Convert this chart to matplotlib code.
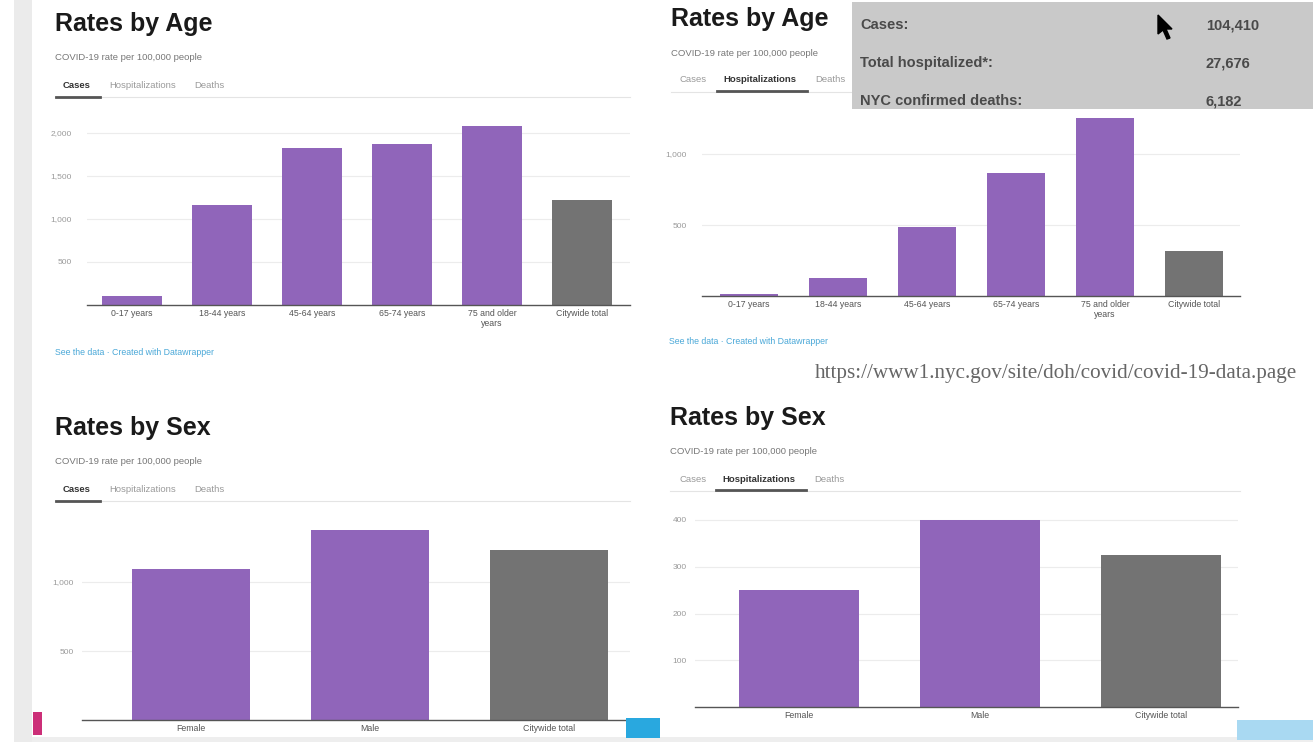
import matplotlib
matplotlib.use("Agg")
import matplotlib.pyplot as plt
from matplotlib.patches import Rectangle, Polygon
from matplotlib.lines import Line2D
from matplotlib.ticker import FuncFormatter

plt.rcParams['font.family'] = ['Liberation Sans', 'DejaVu Sans']

# data (rates per 100,000 people)
age_groups = ["0-17 years", "18-44 years", "45-64 years", "65-74 years", "75 and older\nyears", "Citywide total"]
age_cases = [105, 1165, 1825, 1870, 2080, 1220]
age_hosp = [14, 127, 486, 866, 1254, 317]
sex_groups = ["Female", "Male", "Citywide total"]
sex_cases = [1094, 1377, 1232]
sex_hosp = [251, 400, 326]

summary_labels = ["Cases:", "Total hospitalized*:", "NYC confirmed deaths:"]
summary_values = ["104,410", "27,676", "6,182"]
tabs = ["Cases", "Hospitalizations", "Deaths"]

W, H = 1313, 742
PURPLE = "#9065ba"
GREY = "#737373"

fig = plt.figure(figsize=(W / 100, H / 100), dpi=100)


def fx(x):
    return x / W


def fy(y):
    return 1 - y / H


def add_rect(x0, y0, x1, y1, color, z=1):
    fig.patches.append(Rectangle((fx(x0), fy(y1)), fx(x1 - x0), (y1 - y0) / H,
                                 transform=fig.transFigure, color=color, zorder=z, lw=0))


def add_line(x0, x1, y, color, lw):
    fig.lines.append(Line2D([fx(x0), fx(x1)], [fy(y), fy(y)], transform=fig.transFigure,
                            color=color, lw=lw))


def header(x, y, title, active, line_end):
    fig.text(fx(x), fy(y), title, fontsize=18, fontweight='bold', color='#1a1a1a', va='center')
    fig.text(fx(x), fy(y + 34), "COVID-19 rate per 100,000 people", fontsize=6.8, color='#777777', va='center')
    if active == 0:
        tab_x = [x + 8, x + 54, x + 139]
    else:
        tab_x = [x + 9, x + 52, x + 144]
    for i, t in enumerate(tabs):
        fig.text(fx(tab_x[i]), fy(y + 61), t, fontsize=6.8, va='center',
                 color='#333333' if i == active else '#9a9a9a',
                 fontweight='bold' if i == active else 'normal')
    add_line(x, line_end, y + 73, '#e4e4e4', 0.8)
    if active == 0:
        add_line(x + 1, x + 45, y + 73, '#555555', 2)
    else:
        add_line(x + 46, x + 136, y + 72, '#555555', 2)


def bar_panel(left, right, top, base, x0, step, px_per_unit, cats, vals, ticks, ylabel_x):
    ax = fig.add_axes([fx(left), fy(base), fx(right - left), (base - top) / H])
    colors = [PURPLE] * (len(vals) - 1) + [GREY]
    xs = list(range(len(vals)))
    ax.bar(xs, vals, width=0.66, color=colors, zorder=2)
    ax.set_xlim((left - x0) / step, (right - x0) / step)
    ax.set_ylim(0, (base - top) / px_per_unit)
    ax.set_yticks(ticks)
    ax.yaxis.set_major_formatter(FuncFormatter(lambda v, p: f"{int(v):,}"))
    ax.set_xticks(xs)
    ax.set_xticklabels(cats, fontsize=6.3, color='#555555', linespacing=1.1)
    ax.tick_params(axis='x', length=0, pad=3)
    ax.tick_params(axis='y', length=0, labelsize=6, labelcolor='#9a9a9a', pad=left - ylabel_x)
    ax.grid(axis='y', color='#ececec', lw=0.8, zorder=0)
    for s in ['top', 'right', 'left']:
        ax.spines[s].set_visible(False)
    ax.spines['bottom'].set_color('#555555')
    ax.spines['bottom'].set_linewidth(1)
    ax.spines['bottom'].set_zorder(3)
    ax.patch.set_alpha(0)
    return ax


# page background bits
add_rect(14, 0, 32, H, '#ebebeb')
add_rect(32, 737, W, H, '#eeeeee')
add_rect(33, 712, 42, 735, '#cc2f78')
add_rect(626, 718, 660, 738, '#29a8df')
add_rect(1237, 720, W, 740, '#a9d9f2')

# top left: rates by age, cases
header(55, 24, "Rates by Age", 0, 630)
bar_panel(87, 630, 100, 305, 132, 90, 0.086, age_groups, age_cases, [500, 1000, 1500, 2000], 76)
fig.text(fx(55), fy(352), "See the data · Created with Datawrapper", fontsize=6.3, color='#4aa8d8', va='center')

# top right: rates by age, hospitalizations
header(671, 19, "Rates by Age", 1, 1240)
bar_panel(702, 1240, 110, 296, 749, 89, 0.142, age_groups, age_hosp, [500, 1000], 691)
fig.text(fx(669), fy(342), "See the data · Created with Datawrapper", fontsize=6.3, color='#4aa8d8', va='center')

# bottom left: rates by sex, cases
header(55, 428, "Rates by Sex", 0, 630)
bar_panel(82, 630, 510, 720, 191, 179, 0.138, sex_groups, sex_cases, [500, 1000], 76)

# bottom right: rates by sex, hospitalizations
header(670, 418, "Rates by Sex", 1, 1240)
bar_panel(695, 1238, 505, 707, 799, 181, 0.4675, sex_groups, sex_hosp, [100, 200, 300, 400], 689)

# source url
fig.text(fx(815), fy(373), "https://www1.nyc.gov/site/doh/covid/covid-19-data.page", fontsize=15.2,
         family='Liberation Serif', color='#666666', va='center')

# grey summary box over the top right chart
add_rect(852, 2, W, 109, '#c9c9c9', z=5)
for i, lab in enumerate(summary_labels):
    yy = 25 + i * 38
    fig.text(fx(860), fy(yy), lab, fontsize=10.5, fontweight='bold', color='#4a4a4a', va='center', zorder=6)
    fig.text(fx(1206), fy(yy), summary_values[i], fontsize=10.5, fontweight='bold', color='#4a4a4a',
             va='center', zorder=6)

# mouse cursor
cursor = [(1158, 15), (1158, 34), (1163, 30), (1167, 39), (1170, 38), (1166, 29), (1172, 29)]
fig.patches.append(Polygon([(fx(a), fy(b)) for a, b in cursor], closed=True, transform=fig.transFigure,
                           color='black', zorder=7))

fig.savefig("out.png", dpi=100)
